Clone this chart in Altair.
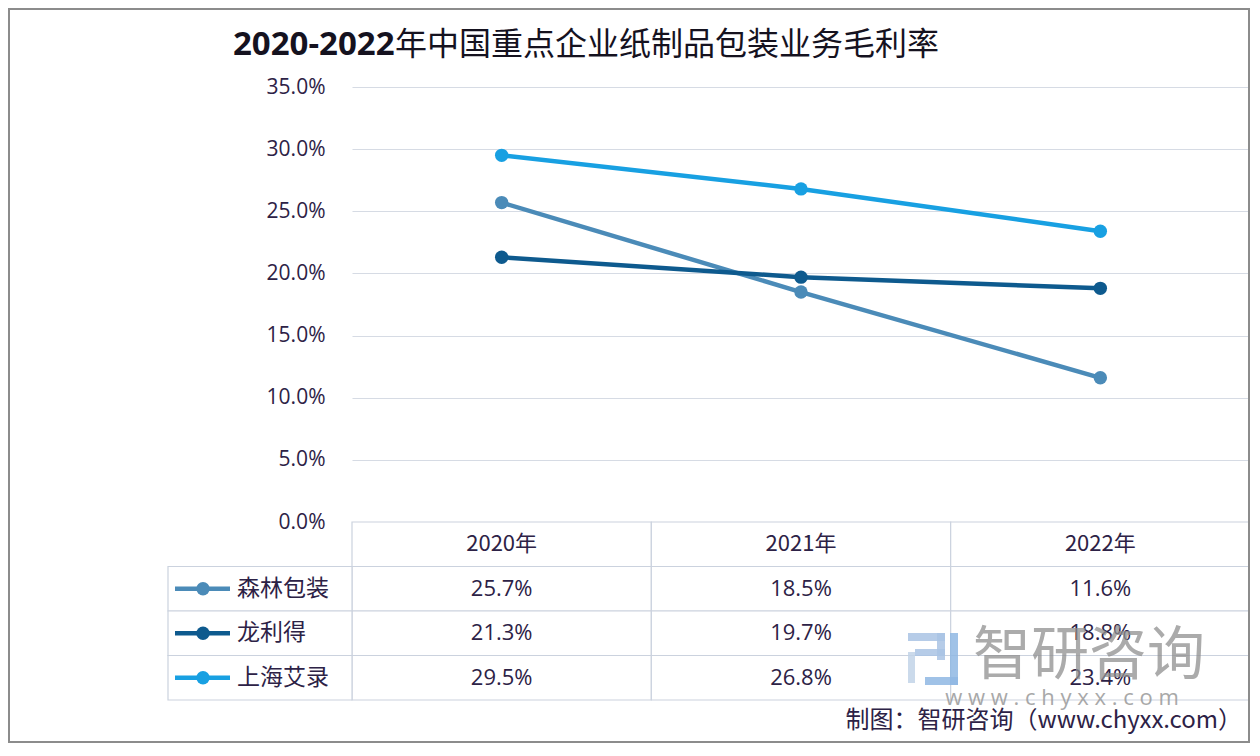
import altair as alt
import pandas as pd

# ---- data ----
years = ["2020年", "2021年", "2022年"]
series = ["森林包装", "龙利得", "上海艾录"]
senlin = [25.7, 18.5, 11.6]
longlide = [21.3, 19.7, 18.8]
aalu = [29.5, 26.8, 23.4]
yticks = [0, 0.05, 0.10, 0.15, 0.20, 0.25, 0.30, 0.35]

title_a = "2020-2022"
title_b = "年中国重点企业纸制品包装业务毛利率"
source = "制图：智研咨询（www.chyxx.com）"
wm_cn = "智研咨询"
wm_en = "w w w . c h y x x . c o m"

colors = ["#4b8bb8", "#0e5a8e", "#18a0e2"]
TXT = "#2d2246"
CJK = "Noto Sans CJK SC"
LAT = "Open Sans"

vals = {"森林包装": senlin, "龙利得": longlide, "上海艾录": aalu}
rows = []
for s in series:
    for y, v in zip(years, vals[s]):
        rows.append({"series": s, "year": y, "value": v / 100.0, "label": f"{v}%", "row": s})
df = pd.DataFrame(rows)

HDR = "hdr"
row_domain = [HDR] + series
header_df = pd.DataFrame({"year": years, "label": years, "row": [HDR] * 3})
cells_df = pd.DataFrame([{"year": y, "row": r} for r in row_domain for y in years])
series_df = pd.DataFrame({"series": series, "row": series})
one = pd.DataFrame({"a": [0]})

# ---- scales / encodings ----
x_band = alt.Scale(domain=years, type="band", paddingInner=0, paddingOuter=0)
X = alt.X("year:N", scale=x_band, axis=None, bandPosition=0.5)
Xr = alt.X("year:N", scale=x_band, axis=None)
row_scale = alt.Scale(domain=row_domain, type="band", range=[435, 613], paddingInner=0, paddingOuter=0)
Yrow = alt.Y("row:N", scale=row_scale, axis=None)
YrowC = alt.Y("row:N", scale=row_scale, axis=None, bandPosition=0.5)
color = alt.Color("series:N", scale=alt.Scale(domain=series, range=colors), legend=None)

Yval = alt.Y(
    "value:Q",
    scale=alt.Scale(domain=[0, 0.35], nice=False, zero=True),
    axis=alt.Axis(values=yticks, format=".1%", grid=True, gridColor="#d6dbe4", gridWidth=1.2,
                  domain=False, ticks=False, labelFontSize=21, labelColor=TXT, labelFont=LAT,
                  labelPadding=27, title=None),
)

base = alt.Chart(df)
lines = base.mark_line(strokeWidth=4.5).encode(x=X, y=Yval, color=color)
pts = base.mark_point(filled=True, size=180, opacity=1).encode(x=X, y=Yval, color=color)
line_layer = alt.layer(lines, pts)

cell_style = dict(fill="white", stroke="#cbd2de", strokeWidth=1.2)
cells = alt.Chart(cells_df).mark_rect(**cell_style).encode(x=Xr, y=Yrow)
legcells = alt.Chart(series_df).mark_rect(**cell_style).encode(
    x=alt.value(-184), x2=alt.value(0), y=Yrow)
hdr_txt = alt.Chart(header_df).mark_text(fontSize=22, color=TXT, font=CJK).encode(
    x=X, y=YrowC, text="label:N")
val_txt = base.mark_text(fontSize=22, color=TXT, font=LAT).encode(
    x=X, y=YrowC, text="label:N")
key_line = alt.Chart(series_df).mark_rule(strokeWidth=4.5).encode(
    x=alt.value(-177), x2=alt.value(-122), y=YrowC, color=color)
key_pt = alt.Chart(series_df).mark_point(filled=True, size=180, opacity=1).encode(
    x=alt.value(-149), y=YrowC, color=color)
key_txt = alt.Chart(series_df).mark_text(align="left", fontSize=23, color=TXT, font=CJK).encode(
    x=alt.value(-115), y=YrowC, text="series:N")
table_layer = alt.layer(cells, legcells, hdr_txt, val_txt, key_line, key_pt, key_txt)

# ---- decorations ----
o = alt.Chart(one)
frame = o.mark_rect(fillOpacity=0, stroke="#8c8c8c", strokeWidth=2).encode(
    x=alt.value(-343), x2=alt.value(897), y=alt.value(-78), y2=alt.value(655))
t_a = alt.Chart(pd.DataFrame({"t": [title_a]})).mark_text(
    align="left", baseline="middle", fontSize=33, fontWeight="bold", color="#15121f", font=LAT
).encode(x=alt.value(-119), y=alt.value(-42), text="t:N")
t_b = alt.Chart(pd.DataFrame({"t": [title_b]})).mark_text(
    align="left", baseline="middle", fontSize=32, fontWeight="normal", color="#15121f", font=CJK
).encode(x=alt.value(43), y=alt.value(-42), text="t:N")

logo_df = pd.DataFrame({
    "x": [556, 585, 563, 598, 573, 556],
    "x2": [593, 593, 593, 606, 606, 563],
    "y": [546, 546, 562, 546, 590, 565],
    "y2": [554, 573, 569, 598, 598, 596],
    "c": ["#a9c3e4", "#a9c3e4", "#a9c3e4", "#8fb7e3", "#8fb7e3", "#c2d3e8"],
})
logo = alt.Chart(logo_df).mark_rect(opacity=0.85).encode(
    x=alt.X("x:Q", scale=None), x2="x2:Q", y=alt.Y("y:Q", scale=None), y2="y2:Q",
    color=alt.Color("c:N", scale=None))
wm1 = alt.Chart(pd.DataFrame({"t": [wm_cn]})).mark_text(
    align="left", baseline="middle", fontSize=58, color="#8f8f8f", opacity=0.75, font=CJK
).encode(x=alt.value(621), y=alt.value(570), text="t:N")
wm2 = alt.Chart(pd.DataFrame({"t": [wm_en]})).mark_text(
    align="center", baseline="middle", fontSize=22, color="#9a9a9a", opacity=0.85, font=LAT
).encode(x=alt.value(710), y=alt.value(611), text="t:N")
src = alt.Chart(pd.DataFrame({"t": [source]})).mark_text(
    align="right", baseline="middle", fontSize=24, color=TXT, font=CJK
).encode(x=alt.value(890), y=alt.value(634), text="t:N")

deco = alt.layer(frame, t_a, t_b, logo, wm1, wm2, src)

chart = alt.layer(line_layer, table_layer, deco).resolve_scale(
    y="independent", color="shared"
).properties(
    width=898, height=435,
    padding={"left": 344, "top": 79, "right": 0, "bottom": 222},
    autosize=alt.AutoSizeParams(type="none"),
    background="white",
).configure_view(stroke=None)

chart.save("out.html", embed_options={"renderer": "svg", "actions": False})
